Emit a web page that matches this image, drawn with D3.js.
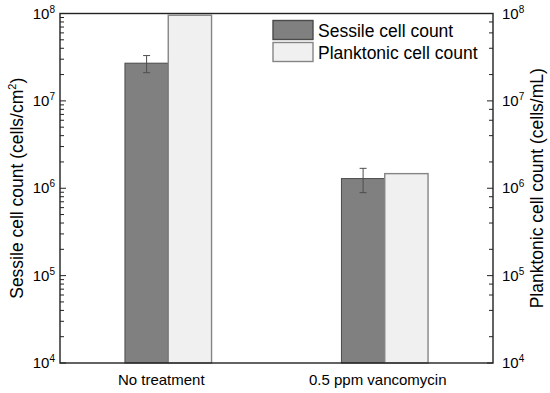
<!DOCTYPE html>
<html>
<head>
<meta charset="utf-8">
<script src="https://d3js.org/d3.v7.min.js"></script>
<style>
	body { margin: 0; background: #fff; }
	text { font-family: "Liberation Sans", Arial, sans-serif; fill: #000; }
</style>
</head>
<body>
<svg id="chart" width="550" height="393"></svg>
<script>
	// data
	var categories = ["No treatment", "0.5 ppm vancomycin"];
	var seriesNames = ["Sessile cell count", "Planktonic cell count"];
	var sessile = [2.7e7, 1.29e6];
	var sessileErr = [0.6e7, 0.4e6];
	var planktonic = [9.55e7, 1.47e6];
	var decades = [1e4, 1e5, 1e6, 1e7, 1e8];

	var fills = ["#808080", "#f0f0f0"];
	var strokes = ["#4a4a4a", "#858585"];

	var svg = d3.select("#chart");
	// note: "top" is a reserved window prop, so plot edges get a prefix
	var pLeft = 60, pRight = 493, pTop = 13.5, pBottom = 363;

	var x0 = d3.scaleBand().domain(categories).range([pLeft, pRight]);
	var x1 = d3.scaleBand().domain(seriesNames)
		.range([x0.bandwidth() * 0.3, x0.bandwidth() * 0.7]);
	var y = d3.scaleLog().domain([1e4, 1e8]).range([pBottom, pTop]);
	var yR = d3.scaleLog().domain([1e4, 1e8]).range([pBottom, pTop]);

	// bars
	var rows = categories.map(function(c, i){
		return [{s: 0, c: c, v: sessile[i], e: sessileErr[i]}, {s: 1, c: c, v: planktonic[i]}];
	});
	var g = svg.append("g");
	rows.forEach(function(r){
		r.forEach(function(d){
			var sc = d.s == 0 ? y : yR;
			g.append("rect")
				.attr("x", x0(d.c) + x1(seriesNames[d.s]))
				.attr("y", sc(d.v))
				.attr("width", x1.bandwidth())
				.attr("height", pBottom - sc(d.v))
				.style("fill", fills[d.s])
				.style("stroke", strokes[d.s])
				.style("stroke-width", d.s == 0 ? 1 : 1.4);
			if (d.e) {
				var cx = x0(d.c) + x1(seriesNames[d.s]) + x1.bandwidth() / 2;
				var eg = g.append("g").style("stroke", "#4d4d4d").style("stroke-width", 1);
				eg.append("line").attr("x1", cx).attr("x2", cx).attr("y1", y(d.v + d.e)).attr("y2", y(d.v - d.e));
				eg.append("line").attr("x1", cx - 3.5).attr("x2", cx + 3.5).attr("y1", y(d.v + d.e)).attr("y2", y(d.v + d.e));
				eg.append("line").attr("x1", cx - 3.5).attr("x2", cx + 3.5).attr("y1", y(d.v - d.e)).attr("y2", y(d.v - d.e));
			}
		});
	});

	// frame
	svg.append("rect")
		.attr("x", pLeft).attr("y", pTop)
		.attr("width", pRight - pLeft).attr("height", pBottom - pTop)
		.style("fill", "none").style("stroke", "#222").style("stroke-width", 1.4);

	// left axis ticks (all minors, inward)
	var lt = y.ticks();
	svg.append("g").selectAll("line").data(lt).join("line")
		.attr("x1", pLeft).attr("x2", function(d){ return decades.indexOf(d) >= 0 ? pLeft + 6 : pLeft + 4; })
		.attr("y1", function(d){ return y(d); }).attr("y2", function(d){ return y(d); })
		.style("stroke", "#222").style("stroke-width", 1);

	// right axis ticks (every other minor)
	var rt = yR.ticks().filter(function(d){
		var m = Math.round(d / Math.pow(10, Math.floor(Math.log10(d) + 1e-9)));
		return m == 1 || m % 2 == 0;
	});
	svg.append("g").selectAll("line").data(rt).join("line")
		.attr("x1", pRight).attr("x2", function(d){ return decades.indexOf(d) >= 0 ? pRight - 6 : pRight - 4; })
		.attr("y1", function(d){ return yR(d); }).attr("y2", function(d){ return yR(d); })
		.style("stroke", "#222").style("stroke-width", 1);

	// tick labels
	function powLabel(sel, xpos, anchor, sc){
		sel.selectAll("text").data(decades).join("text")
			.attr("x", xpos)
			.attr("y", function(d){ return sc(d) + 5; })
			.attr("text-anchor", anchor)
			.style("font-size", "15px")
			.each(function(d){
				var t = d3.select(this);
				t.append("tspan").text("10");
				t.append("tspan").attr("dy", -6).style("font-size", "10px").text(Math.round(Math.log10(d)));
			});
	}
	powLabel(svg.append("g"), 55, "end", y);
	powLabel(svg.append("g"), 502, "start", yR);

	// category labels
	svg.append("g").selectAll("text").data(categories).join("text")
		.attr("x", function(d){ return x0(d) + x0.bandwidth() / 2 - 7; })
		.attr("y", 385)
		.attr("text-anchor", "middle")
		.style("font-size", "15px")
		.text(function(d){ return d; });

	// axis titles
	var lTitle = svg.append("text")
		.attr("transform", "translate(23," + ((pTop + pBottom) / 2) + ") rotate(-90)")
		.attr("text-anchor", "middle")
		.style("font-size", "17.5px");
	lTitle.append("tspan").text("Sessile cell count (cells/cm");
	lTitle.append("tspan").attr("dy", -7).style("font-size", "11px").text("2");
	lTitle.append("tspan").attr("dy", 7).text(")");

	svg.append("text")
		.attr("transform", "translate(543," + ((pTop + pBottom) / 2) + ") rotate(-90)")
		.attr("text-anchor", "middle")
		.style("font-size", "17.5px")
		.text("Planktonic cell count (cells/mL)");

	// legend
	var leg = svg.append("g");
	seriesNames.forEach(function(n, i){
		leg.append("rect")
			.attr("x", 273).attr("y", 20.5 + i * 22)
			.attr("width", 40).attr("height", 19)
			.style("fill", fills[i]).style("stroke", strokes[i]).style("stroke-width", 1.4);
		leg.append("text")
			.attr("x", 318).attr("y", 36.5 + i * 22)
			.style("font-size", "17.5px")
			.text(n);
	});
</script>
</body>
</html>
